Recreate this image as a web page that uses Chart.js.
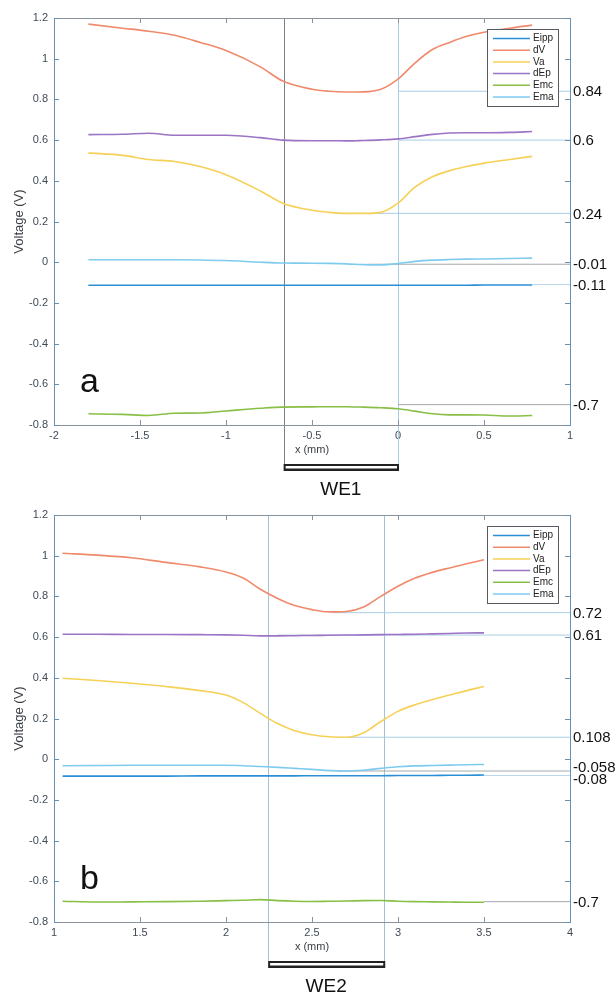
<!DOCTYPE html>
<html>
<head>
<meta charset="utf-8">
<script src="https://cdn.jsdelivr.net/npm/chart.js@4.4.0/dist/chart.umd.min.js"></script>
<style>
html, body { margin: 0; padding: 0; background: #fff; }
canvas { display: block; }
</style>
</head>
<body>
<canvas id="panelA" width="615" height="497"></canvas>
<canvas id="panelB" width="615" height="500"></canvas>
<script>
// series names (same in both panels)
const seriesNames = ['Eipp', 'dV', 'Va', 'dEp', 'Emc', 'Ema'];
const yRange = [-0.8, 1.2];

// ---- panel a (WE1) ----
const xRangeA = [-2, 1];
const xA = [-1.8, -1.6, -1.45, -1.3, -1.15, -1.0, -0.8, -0.67, -0.5, -0.4, -0.3, -0.2, -0.1, 0, 0.1, 0.2, 0.3, 0.4, 0.5, 0.65, 0.78];
const eippA = [-0.113, -0.113, -0.113, -0.113, -0.113, -0.113, -0.113, -0.113, -0.113, -0.113, -0.113, -0.113, -0.113, -0.113, -0.113, -0.113, -0.113, -0.113, -0.112, -0.112, -0.112];
const dVA = [1.17, 1.15, 1.135, 1.115, 1.08, 1.04, 0.96, 0.89, 0.85, 0.84, 0.836, 0.837, 0.85, 0.90, 0.98, 1.045, 1.08, 1.11, 1.13, 1.15, 1.165];
const vaA = [0.537, 0.525, 0.505, 0.495, 0.47, 0.43, 0.35, 0.29, 0.255, 0.245, 0.24, 0.24, 0.245, 0.29, 0.37, 0.42, 0.45, 0.47, 0.487, 0.505, 0.52];
const dEpA = [0.627, 0.629, 0.634, 0.624, 0.624, 0.624, 0.612, 0.6, 0.597, 0.597, 0.596, 0.598, 0.601, 0.606, 0.617, 0.628, 0.635, 0.636, 0.636, 0.638, 0.642];
const emcA = [-0.745, -0.748, -0.753, -0.742, -0.741, -0.731, -0.718, -0.712, -0.711, -0.71, -0.71, -0.712, -0.715, -0.72, -0.732, -0.745, -0.75, -0.75, -0.751, -0.756, -0.753];
const emaA = [0.012, 0.012, 0.012, 0.012, 0.011, 0.008, 0.0, -0.004, -0.005, -0.006, -0.008, -0.012, -0.013, -0.006, 0.004, 0.01, 0.013, 0.015, 0.016, 0.018, 0.02];
const refValA = [0.84, 0.6, 0.24, -0.01, -0.11, -0.7];
const refFromA = [0, 0, -0.3, -0.17, 0.78, 0];
const refLabelA = ['0.84', '0.6', '0.24', '-0.01', '-0.11', '-0.7'];
const weEdgesA = [-0.665, 0];

// ---- panel b (WE2) ----
const xRangeB = [1, 4];
const xB = [1.05, 1.25, 1.45, 1.65, 1.85, 2.0, 2.1, 2.2, 2.3, 2.4, 2.5, 2.6, 2.7, 2.8, 2.9, 3.0, 3.1, 3.2, 3.3, 3.4, 3.5];
const eippB = [-0.083, -0.083, -0.083, -0.083, -0.082, -0.082, -0.082, -0.082, -0.082, -0.082, -0.081, -0.081, -0.081, -0.081, -0.081, -0.08, -0.08, -0.08, -0.079, -0.079, -0.078];
const dVB = [1.012, 1.003, 0.99, 0.967, 0.945, 0.92, 0.89, 0.835, 0.79, 0.755, 0.735, 0.724, 0.726, 0.748, 0.8, 0.85, 0.89, 0.918, 0.94, 0.96, 0.98];
const vaB = [0.398, 0.387, 0.373, 0.357, 0.337, 0.315, 0.278, 0.225, 0.175, 0.14, 0.12, 0.11, 0.108, 0.13, 0.185, 0.235, 0.268, 0.293, 0.315, 0.337, 0.357];
const dEpB = [0.614, 0.614, 0.613, 0.613, 0.612, 0.611, 0.609, 0.606, 0.606, 0.607, 0.608, 0.609, 0.61, 0.611, 0.612, 0.613, 0.614, 0.616, 0.618, 0.62, 0.621];
const emcB = [-0.698, -0.702, -0.701, -0.7, -0.698, -0.695, -0.693, -0.69, -0.695, -0.698, -0.699, -0.698, -0.697, -0.695, -0.694, -0.698, -0.7, -0.701, -0.702, -0.703, -0.703];
const emaB = [-0.032, -0.031, -0.03, -0.03, -0.03, -0.03, -0.032, -0.036, -0.04, -0.045, -0.05, -0.056, -0.058, -0.054, -0.045, -0.037, -0.033, -0.031, -0.029, -0.027, -0.026];
const refValB = [0.72, 0.61, 0.108, -0.058, -0.08, -0.7];
const refFromB = [2.62, 2.3, 2.7, 2.65, 3.5, 3.5];
const refLabelB = ['0.72', '0.61', '0.108', '-0.058', '-0.08', '-0.7'];
const weEdgesB = [2.245, 2.92];

// styles
const seriesColors = ['#2b8fd5', '#f08a6c', '#f6d057', '#9b74c6', '#88bf47', '#7fcbee'];
const refColorsA = ['#a9cfe6', '#a9cfe6', '#a9cfe6', '#a4a8ac', '#b9d5e8', '#a4a8ac'];
const refColorsB = ['#a9cfe6', '#a9cfe6', '#a9cfe6', '#a4a8ac', '#b9d5e8', '#a4a8ac'];
const FONT = '"Liberation Sans", Arial, Helvetica, sans-serif';

function pts(xs, ys) {
  return xs.map((x, i) => ({ x: x, y: ys[i] }));
}

function fmt(v) {
  return String(parseFloat(v.toFixed(2)));
}

const matlabFrame = {
  id: 'matlabFrame',
  beforeDatasetsDraw(chart, args, o) {
    const ctx = chart.ctx, a = chart.chartArea, xs = chart.scales.x;
    ctx.save();
    ctx.lineWidth = 1;
    o.we.forEach((v, i) => {
      const px = Math.round(xs.getPixelForValue(v)) + 0.5;
      ctx.strokeStyle = o.vColors[i];
      ctx.beginPath();
      ctx.moveTo(px, a.top);
      ctx.lineTo(px, a.bottom + 39);
      ctx.stroke();
    });
    ctx.restore();
  },
  afterDraw(chart, args, o) {
    const ctx = chart.ctx, a = chart.chartArea;
    const xs = chart.scales.x, ys = chart.scales.y;
    ctx.save();

    // box and inward ticks
    ctx.lineWidth = 1;
    ctx.strokeStyle = '#8a939b';
    ctx.beginPath();
    ctx.moveTo(a.left, a.top + 0.5); ctx.lineTo(a.right, a.top + 0.5);
    ctx.moveTo(a.left, a.bottom + 0.5); ctx.lineTo(a.right, a.bottom + 0.5);
    xs.ticks.forEach(t => {
      const px = Math.round(xs.getPixelForValue(t.value)) + 0.5;
      ctx.moveTo(px, a.bottom); ctx.lineTo(px, a.bottom - 5);
      ctx.moveTo(px, a.top); ctx.lineTo(px, a.top + 5);
    });
    ctx.stroke();
    ctx.strokeStyle = '#6790b2';
    ctx.beginPath();
    ctx.moveTo(a.left + 0.5, a.top); ctx.lineTo(a.left + 0.5, a.bottom + 1);
    ctx.moveTo(a.right + 0.5, a.top); ctx.lineTo(a.right + 0.5, a.bottom + 1);
    ys.ticks.forEach(t => {
      const py = Math.round(ys.getPixelForValue(t.value)) + 0.5;
      ctx.moveTo(a.left, py); ctx.lineTo(a.left + 5, py);
      ctx.moveTo(a.right, py); ctx.lineTo(a.right - 5, py);
    });
    ctx.stroke();

    // axis titles
    ctx.fillStyle = '#3a3f45';
    ctx.font = '11px ' + FONT;
    ctx.textAlign = 'center';
    ctx.textBaseline = 'middle';
    ctx.fillText('x (mm)', (a.left + a.right) / 2, a.bottom + 25);
    ctx.save();
    ctx.translate(19, (a.top + a.bottom) / 2);
    ctx.rotate(-Math.PI / 2);
    ctx.font = '13px ' + FONT;
    ctx.fillText('Voltage (V)', 0, 0);
    ctx.restore();

    // panel letter
    ctx.fillStyle = '#111';
    ctx.font = '34px ' + FONT;
    ctx.textAlign = 'left';
    ctx.textBaseline = 'alphabetic';
    ctx.fillText(o.letter, a.left + 26, a.bottom - 33);

    // electrode bar and label
    const x0 = xs.getPixelForValue(o.we[0]), x1 = xs.getPixelForValue(o.we[1]);
    const bt = a.bottom + 39;
    ctx.fillStyle = '#222';
    ctx.fillRect(x0, bt, x1 - x0 + 1, 7);
    ctx.fillStyle = '#fff';
    ctx.fillRect(x0 + 2, bt + 2, x1 - x0 - 3, 2.5);
    ctx.fillStyle = '#111';
    ctx.font = '19px ' + FONT;
    ctx.textAlign = 'center';
    ctx.textBaseline = 'middle';
    ctx.fillText(o.weLabel, (x0 + x1) / 2, a.bottom + 65);

    // right-hand value labels, pushed apart when they collide
    const labs = o.refVals.map((v, i) => ({ y: ys.getPixelForValue(v), t: o.refLabels[i] }));
    labs.sort((p, q) => p.y - q.y);
    for (let i = 1; i < labs.length; i++) {
      const gap = labs[i].y - labs[i - 1].y;
      if (gap < 12) {
        const d = (12 - gap) / 2;
        labs[i - 1].y -= d;
        labs[i].y += d;
      }
    }
    ctx.font = '15px ' + FONT;
    ctx.textAlign = 'left';
    labs.forEach(l => ctx.fillText(l.t, a.right + 3, l.y + 1));

    // legend
    const bx = a.right - 83, by = a.top + 11, bw = 71, bh = 77;
    ctx.fillStyle = '#fff';
    ctx.fillRect(bx, by, bw, bh);
    ctx.strokeStyle = '#555b60';
    ctx.lineWidth = 1;
    ctx.strokeRect(bx + 0.5, by + 0.5, bw, bh);
    ctx.font = '10px ' + FONT;
    ctx.textBaseline = 'middle';
    seriesNames.forEach((n, i) => {
      const ly = by + 9.5 + i * 11.7;
      ctx.strokeStyle = seriesColors[i];
      ctx.lineWidth = 1.5;
      ctx.beginPath();
      ctx.moveTo(bx + 6, ly); ctx.lineTo(bx + 43, ly);
      ctx.stroke();
      ctx.fillStyle = '#222';
      ctx.fillText(n, bx + 46, ly);
    });
    ctx.restore();
  }
};

function makeChart(id, xs, series, xRange, refVals, refFrom, refLabels, refColors, we, vColors, letter, weLabel, padBottom) {
  const datasets = series.map((ys, i) => ({
    label: seriesNames[i],
    data: pts(xs, ys),
    borderColor: seriesColors[i],
    borderWidth: 1.6,
    pointRadius: 0,
    cubicInterpolationMode: 'monotone',
    fill: false
  }));
  refVals.forEach((v, i) => {
    datasets.push({
      label: 'ref ' + refLabels[i],
      data: [{ x: refFrom[i], y: v }, { x: xRange[1], y: v }],
      borderColor: refColors[i],
      borderWidth: 1,
      pointRadius: 0,
      fill: false,
      order: 10
    });
  });

  return new Chart(document.getElementById(id), {
    type: 'line',
    data: { datasets: datasets },
    options: {
      responsive: false,
      animation: false,
      layout: { padding: { left: 0, right: 45, top: 18, bottom: padBottom } },
      plugins: {
        legend: { display: false },
        tooltip: { enabled: false },
        matlabFrame: { letter: letter, weLabel: weLabel, we: we, vColors: vColors, refVals: refVals, refLabels: refLabels }
      },
      scales: {
        x: {
          type: 'linear',
          min: xRange[0],
          max: xRange[1],
          grid: { display: false, drawTicks: false },
          border: { display: false },
          afterFit: s => { s.height = 34; },
          ticks: {
            stepSize: 0.5,
            padding: 4,
            color: '#404a55',
            font: { family: FONT, size: 11 },
            maxRotation: 0,
            callback: v => fmt(v)
          }
        },
        y: {
          min: yRange[0],
          max: yRange[1],
          grid: { display: false, drawTicks: false },
          border: { display: false },
          afterFit: s => { s.width = 54; },
          ticks: {
            stepSize: 0.2,
            padding: 6,
            color: '#404a55',
            font: { family: FONT, size: 11 },
            callback: v => fmt(v)
          }
        }
      }
    },
    plugins: [matlabFrame]
  });
}

makeChart('panelA', xA, [eippA, dVA, vaA, dEpA, emcA, emaA], xRangeA,
  refValA, refFromA, refLabelA, refColorsA, weEdgesA, ['#7b8087', '#a7cde4'], 'a', 'WE1', 38);
makeChart('panelB', xB, [eippB, dVB, vaB, dEpB, emcB, emaB], xRangeB,
  refValB, refFromB, refLabelB, refColorsB, weEdgesB, ['#a3c1d8', '#a3c1d8'], 'b', 'WE2', 41);
</script>
</body>
</html>
